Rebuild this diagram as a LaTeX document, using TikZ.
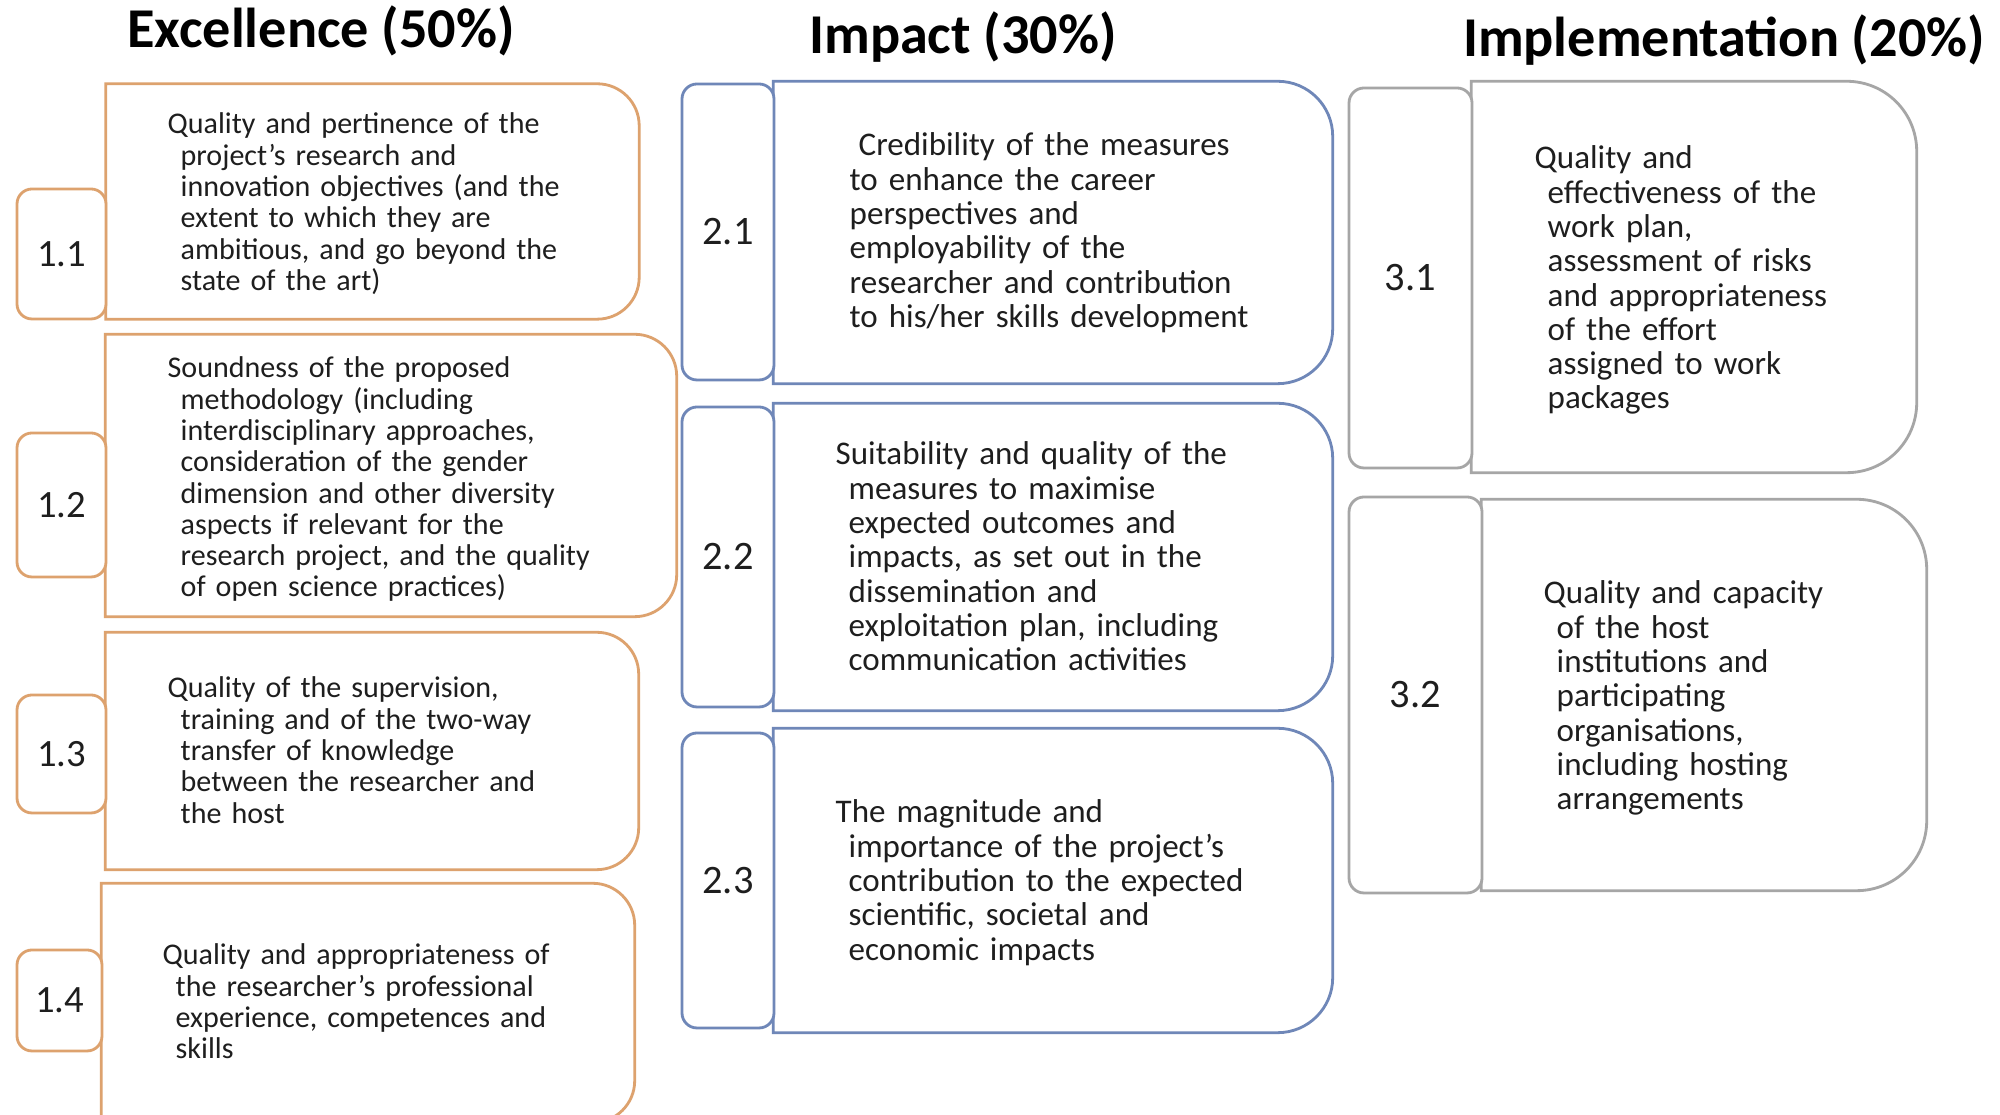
\documentclass[tikz,border=0pt]{standalone}
\usepackage{fontspec}
\setmainfont{Carlito}
\usetikzlibrary{positioning,calc}

\definecolor{exorange}{HTML}{DDA26E}
\definecolor{imblue}{HTML}{6F87B8}
\definecolor{mpgray}{HTML}{A6A6A6}
\definecolor{inkgray}{HTML}{1E1E1E}

\tikzset{
	heading/.style={anchor=base, inner sep=0pt, text=black, font=\bfseries\fontsize{16}{19}\selectfont},
	cellbox/.style={inner sep=0pt, minimum width=#1},
	numtab/.style={draw, rounded corners=0.15cm, line width=0.8pt, fill=white, inner sep=0pt, text=inkgray},
	extext/.style={anchor=base west, inner sep=0pt, text width=5cm, text=inkgray, font=\fontsize{8.55}{8.9}\selectfont},
	imtext/.style={anchor=base west, inner sep=0pt, text width=5cm, text=inkgray, font=\fontsize{9.4}{9.75}\selectfont}
}

\begin{document}
\begin{tikzpicture}
	\useasboundingbox (0,0) rectangle (20,11.15);
	\fill[white] (0,0) rectangle (20,11.15);
	\clip (0,0) rectangle (20,11.15);

	% headings
	\node[heading] (hex) at (3.21, 10.67) {Excellence (50\%)};
	\node[heading] (him) at (9.63, 10.61) {Impact (30\%)};
	\node[heading] (hmp) at (17.24, 10.58) {Implementation (20\%)};

	% excellence
	\node[cellbox=5.32cm, minimum height=2.34cm] (ex1) at (3.725, 9.135) {};
	\node[cellbox=5.70cm, minimum height=2.81cm] (ex2) at (3.91, 6.395) {};
	\node[cellbox=5.32cm, minimum height=2.36cm] (ex3) at (3.72, 3.64) {};
	\node[cellbox=5.32cm, minimum height=2.38cm] (ex4) at (3.68, 1.12) {};
	\draw[exorange, line width=0.8pt] (ex1.south west) -- (ex1.north west) -- ([xshift=-4.2mm]ex1.north east) arc[start angle=90, end angle=0, radius=4.2mm] -- ([yshift=4.2mm]ex1.south east) arc[start angle=0, end angle=-90, radius=4.2mm] -- cycle;
	\draw[exorange, line width=0.8pt] (ex2.south west) -- (ex2.north west) -- ([xshift=-4.2mm]ex2.north east) arc[start angle=90, end angle=0, radius=4.2mm] -- ([yshift=4.2mm]ex2.south east) arc[start angle=0, end angle=-90, radius=4.2mm] -- cycle;
	\draw[exorange, line width=0.8pt] (ex3.south west) -- (ex3.north west) -- ([xshift=-4.2mm]ex3.north east) arc[start angle=90, end angle=0, radius=4.2mm] -- ([yshift=4.2mm]ex3.south east) arc[start angle=0, end angle=-90, radius=4.2mm] -- cycle;
	\draw[exorange, line width=0.8pt] (ex4.south west) -- (ex4.north west) -- ([xshift=-4.2mm]ex4.north east) arc[start angle=90, end angle=0, radius=4.2mm] -- ([yshift=4.2mm]ex4.south east) arc[start angle=0, end angle=-90, radius=4.2mm] -- cycle;
	\node[numtab, draw=exorange, minimum width=0.89cm, minimum height=1.30cm, font=\fontsize{11}{13}\selectfont] (n11) at (0.615, 8.61) {1.1};
	\node[numtab, draw=exorange, minimum width=0.89cm, minimum height=1.44cm, font=\fontsize{11}{13}\selectfont] (n12) at (0.615, 6.10) {1.2};
	\node[numtab, draw=exorange, minimum width=0.89cm, minimum height=1.18cm, font=\fontsize{11}{13}\selectfont] (n13) at (0.615, 3.61) {1.3};
	\node[numtab, draw=exorange, minimum width=0.85cm, minimum height=1.01cm, font=\fontsize{11}{13}\selectfont] (n14) at (0.595, 1.145) {1.4};
	\node[extext] (ex1txt) at (1.67, 9.81) {\leftskip=1.3mm\hspace*{-1.3mm}Quality and pertinence of the\\
		project’s research and\\
		innovation objectives (and the\\
		extent to which they are\\
		ambitious, and go beyond the\\
		state of the art)\par};
	\node[extext] (ex2txt) at (1.67, 7.37) {\leftskip=1.3mm\hspace*{-1.3mm}Soundness of the proposed\\
		methodology (including\\
		interdisciplinary approaches,\\
		consideration of the gender\\
		dimension and other diversity\\
		aspects if relevant for the\\
		research project, and the quality\\
		of open science practices)\par};
	\node[extext] (ex3txt) at (1.67, 4.17) {\leftskip=1.3mm\hspace*{-1.3mm}Quality of the supervision,\\
		training and of the two-way\\
		transfer of knowledge\\
		between the researcher and\\
		the host\par};
	\node[extext] (ex4txt) at (1.62, 1.50) {\leftskip=1.3mm\hspace*{-1.3mm}Quality and appropriateness of\\
		the researcher’s professional\\
		experience, competences and\\
		skills\par};

	% impact
	\node[cellbox=5.58cm, minimum height=3.01cm] (im1) at (10.53, 8.825) {};
	\node[cellbox=5.58cm, minimum height=3.06cm] (im2) at (10.53, 5.58) {};
	\node[cellbox=5.58cm, minimum height=3.03cm] (im3) at (10.53, 2.345) {};
	\draw[imblue, line width=0.8pt] (im1.south west) -- (im1.north west) -- ([xshift=-5.5mm]im1.north east) arc[start angle=90, end angle=0, radius=5.5mm] -- ([yshift=5.5mm]im1.south east) arc[start angle=0, end angle=-90, radius=5.5mm] -- cycle;
	\draw[imblue, line width=0.8pt] (im2.south west) -- (im2.north west) -- ([xshift=-5.5mm]im2.north east) arc[start angle=90, end angle=0, radius=5.5mm] -- ([yshift=5.5mm]im2.south east) arc[start angle=0, end angle=-90, radius=5.5mm] -- cycle;
	\draw[imblue, line width=0.8pt] (im3.south west) -- (im3.north west) -- ([xshift=-5.5mm]im3.north east) arc[start angle=90, end angle=0, radius=5.5mm] -- ([yshift=5.5mm]im3.south east) arc[start angle=0, end angle=-90, radius=5.5mm] -- cycle;
	\node[numtab, draw=imblue, minimum width=0.92cm, minimum height=2.96cm, font=\fontsize{11.5}{13}\selectfont] (n21) at (7.28, 8.83) {2.1};
	\node[numtab, draw=imblue, minimum width=0.92cm, minimum height=3.00cm, font=\fontsize{11.5}{13}\selectfont] (n22) at (7.28, 5.58) {2.2};
	\node[numtab, draw=imblue, minimum width=0.92cm, minimum height=2.95cm, font=\fontsize{11.5}{13}\selectfont] (n23) at (7.28, 2.345) {2.3};
	\node[imtext] (im1txt) at (8.49, 9.59) {\hspace*{0.9mm}Credibility of the measures\\
		to enhance the career\\
		perspectives and\\
		employability of the\\
		researcher and contribution\\
		to his/her skills development\par};
	\node[imtext] (im2txt) at (8.35, 6.50) {\leftskip=1.3mm\hspace*{-1.3mm}Suitability and quality of the\\
		measures to maximise\\
		expected outcomes and\\
		impacts, as set out in the\\
		dissemination and\\
		exploitation plan, including\\
		communication activities\par};
	\node[imtext] (im3txt) at (8.35, 2.92) {\leftskip=1.3mm\hspace*{-1.3mm}The magnitude and\\
		importance of the project’s\\
		contribution to the expected\\
		scientific, societal and\\
		economic impacts\par};

	% implementation
	\node[cellbox=4.44cm, minimum height=3.90cm] (mp1) at (16.94, 8.38) {};
	\node[cellbox=4.44cm, minimum height=3.90cm] (mp2) at (17.04, 4.20) {};
	\draw[mpgray, line width=0.8pt] (mp1.south west) -- (mp1.north west) -- ([xshift=-7mm]mp1.north east) arc[start angle=90, end angle=0, radius=7mm] -- ([yshift=7mm]mp1.south east) arc[start angle=0, end angle=-90, radius=7mm] -- cycle;
	\draw[mpgray, line width=0.8pt] (mp2.south west) -- (mp2.north west) -- ([xshift=-7mm]mp2.north east) arc[start angle=90, end angle=0, radius=7mm] -- ([yshift=7mm]mp2.south east) arc[start angle=0, end angle=-90, radius=7mm] -- cycle;
	\node[numtab, draw=mpgray, minimum width=1.23cm, minimum height=3.80cm, font=\fontsize{11.5}{13}\selectfont] (n31) at (14.105, 8.37) {3.1};
	\node[numtab, draw=mpgray, minimum width=1.33cm, minimum height=3.96cm, font=\fontsize{11.5}{13}\selectfont] (n32) at (14.155, 4.20) {3.2};
	\node[imtext] (mp1txt) at (15.34, 9.46) {\leftskip=1.3mm\hspace*{-1.3mm}Quality and\\
		effectiveness of the\\
		work plan,\\
		assessment of risks\\
		and appropriateness\\
		of the effort\\
		assigned to work\\
		packages\par};
	\node[imtext] (mp2txt) at (15.43, 5.11) {\leftskip=1.3mm\hspace*{-1.3mm}Quality and capacity\\
		of the host\\
		institutions and\\
		participating\\
		organisations,\\
		including hosting\\
		arrangements\par};
\end{tikzpicture}
\end{document}
